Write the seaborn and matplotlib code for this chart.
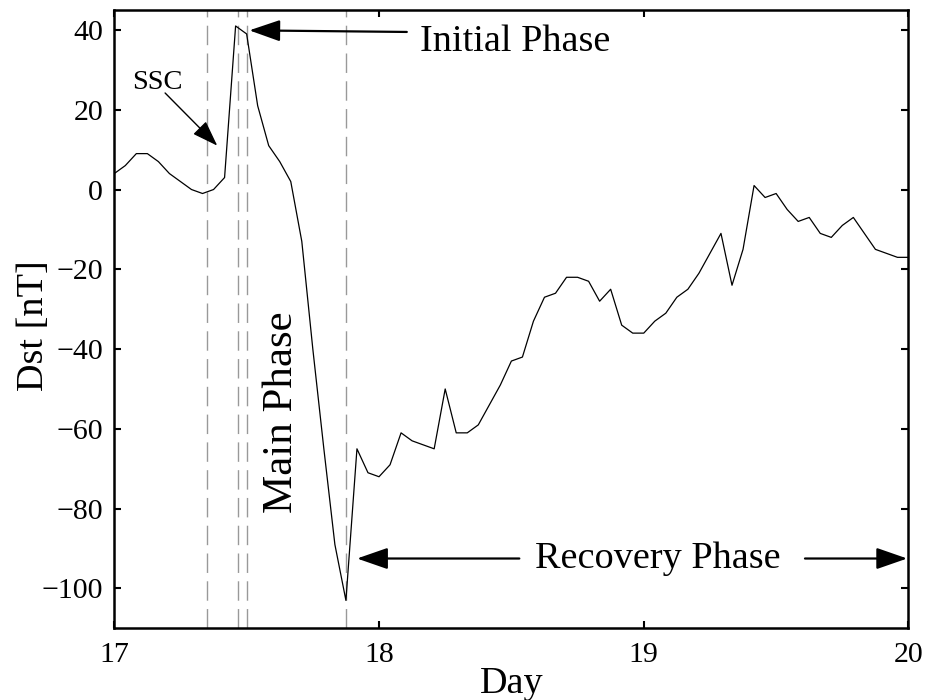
import numpy as np
import matplotlib
matplotlib.use("Agg")
import matplotlib.pyplot as plt
import seaborn as sns

# ---- data ----
dst = [4, 6, 9, 9, 7, 4, 2, 0, -1, 0, 3, 41, 39, 21, 11, 7, 2, -13, -40, -65,
       -89, -103, -65, -71, -72, -69, -61, -63, -64, -65, -50, -61, -61, -59,
       -54, -49, -43, -42, -33, -27, -26, -22, -22, -23, -28, -25, -34, -36,
       -36, -33, -31, -27, -25, -21, -16, -11, -24, -15, 1, -2, -1, -5, -8,
       -7, -11, -12, -9, -7, -11, -15, -16, -17, -17]
start_day = 17
hours = np.arange(len(dst))
day = start_day + hours / 24.0
event_days = [17.35, 17.467, 17.50, 17.875]
x_ticks = [17, 18, 19, 20]
y_ticks = [-100, -80, -60, -40, -20, 0, 20, 40]

sns.set_theme(style="ticks")
plt.rcParams["font.family"] = ["Liberation Serif", "DejaVu Serif"]
plt.rcParams["axes.unicode_minus"] = True
plt.rcParams["text.color"] = "black"
plt.rcParams["axes.labelcolor"] = "black"
plt.rcParams["xtick.color"] = "black"
plt.rcParams["ytick.color"] = "black"

fig = plt.figure(figsize=(9.26, 7.0), dpi=100)
ax = fig.add_axes([0.1234, 0.1024, 0.8577, 0.8833])

for d in event_days:
    ax.axvline(d, color="0.6", lw=1.0, dashes=(14, 6), zorder=1)

sns.lineplot(x=day, y=dst, color="black", lw=0.9, ax=ax, zorder=3)

ax.set_xlim(17, 20)
ax.set_ylim(-110, 45)
ax.set_xticks(x_ticks)
ax.set_yticks(y_ticks)
ax.tick_params(direction="in", top=True, right=True, length=5, width=1.5,
               labelsize=21.5, colors="black")
ax.tick_params(axis="x", pad=10)
ax.tick_params(axis="y", pad=8)
for s in ax.spines.values():
    s.set_visible(True)
    s.set_linewidth(1.8)
    s.set_color("black")

ax.set_xlabel("Day", fontsize=27.5, color="black")
ax.set_ylabel("Dst [nT]", fontsize=27.5, color="black")
ax.xaxis.set_label_coords(0.5, -0.062)
ax.yaxis.set_label_coords(-0.080, 0.49)

big = dict(arrowstyle="-|>,head_length=0.95,head_width=0.33", lw=1.6,
           color="black", shrinkA=0, shrinkB=0, mutation_scale=20)
small = dict(arrowstyle="-|>,head_length=0.8,head_width=0.28", lw=1.0,
             color="black", shrinkA=0, shrinkB=0, mutation_scale=20)

# Initial phase
ax.annotate("", xy=(17.51, 39.9), xytext=(18.105, 39.5), arrowprops=big)
ax.text(18.156, 34.7, "Initial Phase", fontsize=27.5, ha="left", va="baseline",
        color="black")

# SSC
ax.annotate("", xy=(17.389, 11.0), xytext=(17.192, 24.2), arrowprops=small)
ax.text(17.066, 25.1, "SSC", fontsize=20.5, ha="left", va="baseline",
        color="black")

# Main phase
ax.text(17.672, -55.9, "Main Phase", fontsize=31, rotation=90,
        rotation_mode="anchor", ha="center", va="baseline", color="black")

# Recovery phase
ax.annotate("", xy=(17.917, -92.5), xytext=(18.53, -92.5), arrowprops=big)
ax.annotate("", xy=(19.995, -92.5), xytext=(19.609, -92.5), arrowprops=big)
ax.text(18.59, -95.0, "Recovery Phase", fontsize=27.5, ha="left",
        va="baseline", color="black")

fig.savefig("out.png", dpi=100)
